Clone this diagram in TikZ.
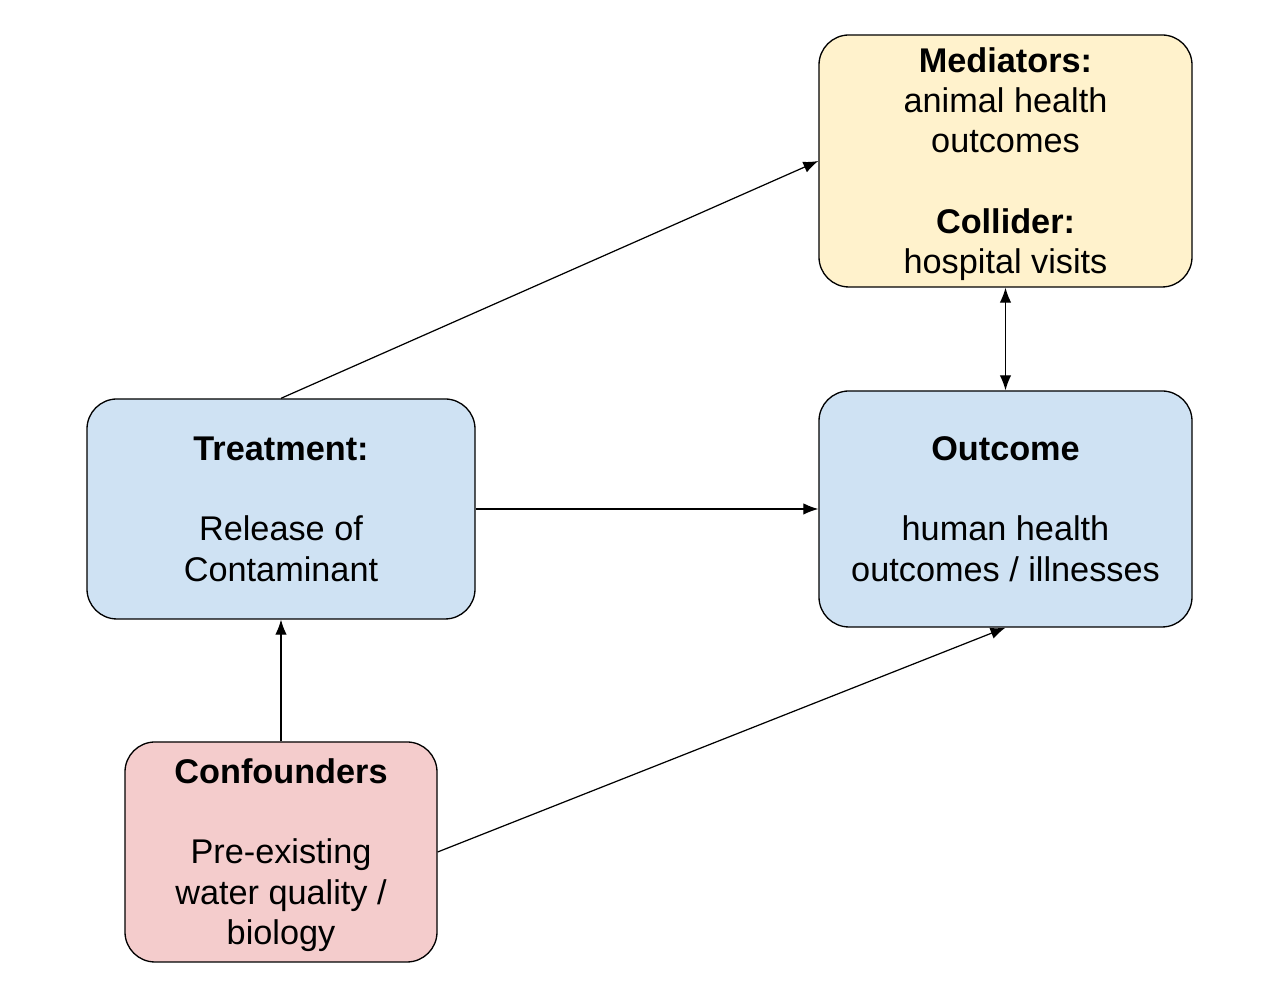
\documentclass[tikz,border=0pt]{standalone}
\usepackage{fontspec}
\setmainfont{Liberation Sans}
\usetikzlibrary{arrows.meta}
\definecolor{boxblue}{RGB}{207,226,243}
\definecolor{boxyellow}{RGB}{255,242,204}
\definecolor{boxred}{RGB}{244,204,204}
\newcommand\linestrut{\rule[-4.6pt]{0pt}{22.8pt}}

\begin{document}
\begin{tikzpicture}[font=\fontsize{19.5}{22.8}\selectfont,>={Latex[length=3mm,width=2.3mm]},
 box/.style={draw,line width=0.75pt,rounded corners=0.6cm,align=center,inner sep=0pt}]
\useasboundingbox (0,0) rectangle (25.22,19.7);
\node[box,fill=boxyellow,minimum width=7.46cm,minimum height=5.04cm] (med) at (20.11,16.48)
 {\linestrut\textbf{Mediators:}\\animal health\\outcomes\\[22.8pt]\textbf{Collider:}\\hospital visits\linestrut};
\node[box,fill=boxblue,minimum width=7.76cm,minimum height=4.4cm] (treat) at (5.62,9.52)
 {\linestrut\textbf{Treatment:}\\[22.8pt]Release of\\Contaminant\linestrut};
\node[box,fill=boxblue,minimum width=7.46cm,minimum height=4.72cm] (outc) at (20.11,9.52)
 {\linestrut\textbf{Outcome}\\[22.8pt]human health\\outcomes / illnesses\linestrut};
\node[box,fill=boxred,minimum width=6.24cm,minimum height=4.4cm] (conf) at (5.62,2.66)
 {\linestrut\textbf{Confounders}\\[22.8pt]Pre-existing\\water quality /\\biology\linestrut};
\draw[->,line width=0.7pt] (treat.north) -- (med.west);
\draw[<->,line width=0.7pt] (med.south) -- (outc.north);
\draw[->,line width=0.7pt] (treat.east) -- (outc.west);
\draw[->,line width=0.7pt] (conf.north) -- (treat.south);
\draw[->,line width=0.7pt] (conf.east) -- (outc.south);
\end{tikzpicture}
\end{document}
